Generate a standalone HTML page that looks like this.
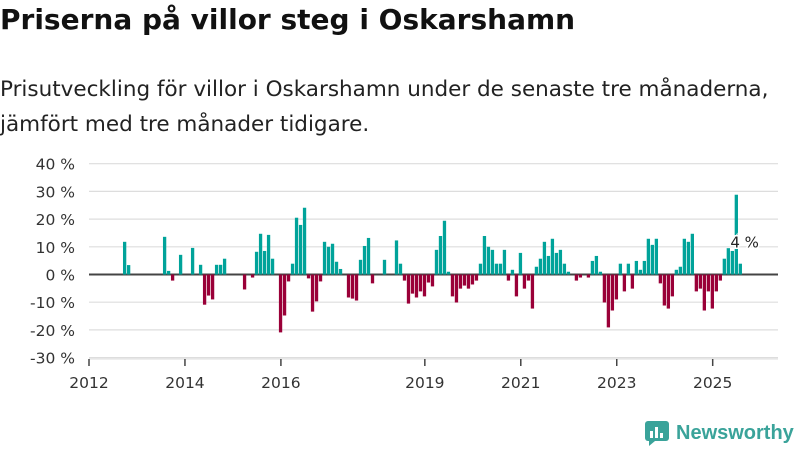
<!DOCTYPE html>
<html><head><meta charset="utf-8">
<style>
body{margin:0;width:800px;height:450px;background:#fff;font-family:"DejaVu Sans","Liberation Sans",sans-serif;overflow:hidden;position:relative}
h1{position:absolute;left:0;top:3px;margin:0;font-size:28px;font-weight:bold;color:#111;letter-spacing:0px}
p{position:absolute;left:0;top:72px;margin:0;font-size:21.5px;line-height:35px;color:#222}
svg{position:absolute;left:0;top:0}
</style></head><body>
<h1>Priserna på villor steg i Oskarshamn</h1>
<p>Prisutveckling för villor i Oskarshamn under de senaste tre månaderna,<br>jämfört med tre månader tidigare.</p>
<svg id="chart" width="800" height="450"></svg>
<div style="position:absolute;left:644px;top:420px;display:flex;align-items:center;gap:6px">
<svg width="26" height="26" viewBox="0 0 26 26" style="position:static"><rect x="1" y="1" width="24" height="20" rx="3" fill="#3aa39a"/><path d="M5 21 L5 26 L11 21Z" fill="#3aa39a"/><rect x="6" y="11" width="3" height="7" fill="#fff"/><rect x="11" y="7" width="3" height="11" fill="#fff"/><rect x="16" y="13" width="3" height="5" fill="#fff"/></svg>
<span style="font-family:'Liberation Sans',sans-serif;font-size:20px;font-weight:bold;color:#3aa39a">Newsworthy</span></div>
<script>
const monthIdx=[8,9,18,19,20,22,25,27,28,29,30,31,32,33,38,40,41,42,43,44,45,47,48,49,50,51,52,53,54,55,56,57,58,59,60,61,62,64,65,66,67,68,69,70,73,76,77,78,79,80,81,82,83,84,85,86,87,88,89,90,91,92,93,94,95,96,97,98,99,100,101,102,103,104,105,106,107,108,109,110,111,112,113,114,115,116,117,118,119,121,122,124,125,126,127,128,129,130,131,132,133,134,135,136,137,138,139,140,141,142,143,144,145,146,147,148,149,150,151,152,153,154,155,156,157,158,159,160,161,162];
const values=[11.8,3.4,13.6,1.3,-2.2,7.1,9.6,3.5,-10.9,-7.6,-9.0,3.5,3.5,5.7,-5.4,-1.1,8.2,14.7,8.5,14.3,5.7,-20.9,-14.8,-2.5,3.9,20.5,17.9,24.1,-1.4,-13.4,-9.7,-2.5,11.8,10.0,11.1,4.6,2.0,-8.3,-8.7,-9.4,5.3,10.3,13.2,-3.2,5.3,12.3,3.9,-2.2,-10.5,-6.9,-8.3,-6.1,-7.9,-2.9,-4.3,8.9,13.9,19.4,1.0,-7.9,-10.1,-5.1,-4.0,-5.1,-3.6,-2.2,3.9,13.9,10.0,8.9,3.9,3.9,8.9,-2.2,1.7,-7.9,7.8,-5.1,-2.2,-12.3,2.8,5.7,11.8,6.7,12.9,7.8,8.9,3.9,1.0,-2.2,-1.1,-1.1,4.9,6.7,1.0,-10.1,-19.1,-13.0,-9.0,3.9,-6.1,3.9,-5.1,4.9,1.7,4.9,12.9,10.7,12.9,-3.2,-11.2,-12.3,-7.9,1.7,2.8,12.9,11.8,14.7,-6.1,-5.1,-13.0,-6.1,-12.3,-6.1,-2.2,5.7,9.5,8.5,28.8,3.9];
const yTicks=[40,30,20,10,0,-10,-20,-30];
const xTickYears=[2012,2014,2016,2019,2021,2023,2025];
const startYear=2012;
const NS="http://www.w3.org/2000/svg";
const svg=document.getElementById('chart');
const x=m=>89+m*3.998;
const y=v=>274.5-v*2.77;
const FONT='DejaVu Sans, Liberation Sans, sans-serif';
function mk(t,a){const e=document.createElementNS(NS,t);for(const k in a)e.setAttribute(k,a[k]);svg.appendChild(e);return e;}
yTicks.forEach(v=>{
 const g=mk('line',{x1:89,x2:778,y1:y(v),y2:y(v),stroke:v===0?'#444':'#ddd','stroke-width':v===0?2:1.2});
 
 
 const t=mk('text',{x:75,y:y(v)+6,'text-anchor':'end','font-size':15.5,fill:'#333','font-family':FONT});
 t.textContent=v+' %';
 
 
});
const ax=mk('line',{x1:89,x2:778,y1:359,y2:359,stroke:'#ddd','stroke-width':1});


xTickYears.forEach(yr=>{
 const xx=x((yr-startYear)*12);
 const l=mk('line',{x1:xx,x2:xx,y1:359,y2:366,stroke:'#444','stroke-width':1.5});
 
 
 const t=mk('text',{x:xx,y:388,'text-anchor':'middle','font-size':15.5,fill:'#333','font-family':FONT});
 t.textContent=yr;
 
 
});
monthIdx.forEach((m,i)=>{
 const v=values[i];
 const r=mk('rect',{x:x(m)+2,width:3.3,y:Math.min(y(v),y(0)),height:Math.abs(y(v)-y(0)),fill:v>=0?'#00a39a':'#9a0038'});
 
 
});
const li=values.length-1;
const lab=mk('text',{x:x(monthIdx[li])+8,y:y(values[li])-16,'text-anchor':'middle','font-size':15,fill:'#222',stroke:'#fff','stroke-width':3,'paint-order':'stroke','font-family':FONT});
lab.textContent=Math.round(values[li])+' %';


</script>
</body></html>
